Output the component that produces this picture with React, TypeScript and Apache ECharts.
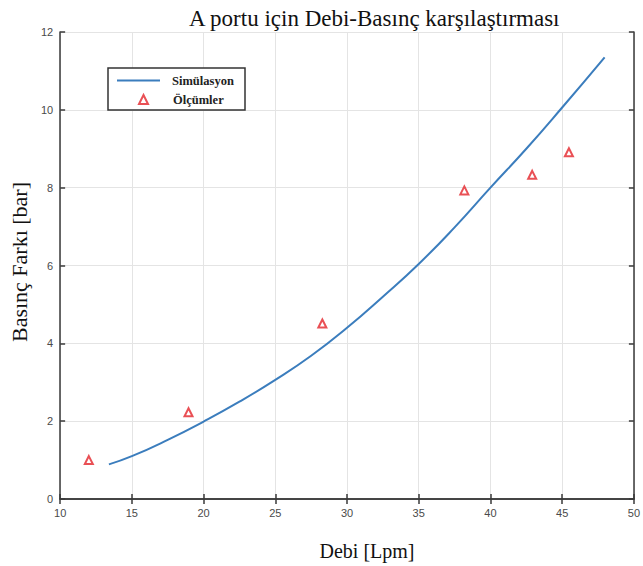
import React, { useEffect, useRef } from "react";
import * as echarts from "echarts";

const titleText = "A portu için Debi-Basınç karşılaştırması";
const xName = "Debi [Lpm]";
const yName = "Basınç Farkı [bar]";
const simName = "Simülasyon";
const measName = "Ölçümler";

const simX = [13.4, 15, 17.5, 20, 22.5, 25, 27.5, 30, 32.5, 35, 37.5, 40, 42.5, 45, 47.96];
const simY = [0.89, 1.1, 1.52, 1.99, 2.5, 3.06, 3.68, 4.4, 5.2, 6.04, 6.98, 8.0, 9.0, 10.06, 11.35];

const measX = [12.0, 18.95, 28.28, 38.18, 42.91, 45.47];
const measY = [1.0, 2.23, 4.51, 7.93, 8.33, 8.91];

const xMin = 10, xMax = 50, xStep = 5;
const yMin = 0, yMax = 12, yStep = 2;

export default function App() {
  const ref = useRef<HTMLDivElement>(null);
  useEffect(() => {
    if (!ref.current) return;
    const chart = echarts.init(ref.current, null, { renderer: "svg" });
    const axisLine = { show: true, lineStyle: { color: "#3a3a3a", width: 1.5 } };
    const axisTick = { show: true, inside: true, length: 5, lineStyle: { color: "#3a3a3a", width: 1.5 } };
    const tickLabel = { color: "#4a4a4a", fontFamily: "Liberation Sans", fontSize: 11 };
    const legendText = {
      fontFamily: "Liberation Serif",
      fontWeight: "bold",
      fontSize: 12.5,
      color: "#222",
    };
    chart.setOption({
      animation: false,
      backgroundColor: "#fff",
      title: {
        text: titleText,
        left: 184,
        top: 2,
        textStyle: { fontFamily: "Liberation Serif", fontSize: 23, fontWeight: "normal", color: "#111" },
      },
      grid: { left: 56, right: 5, top: 32, bottom: 67, containLabel: false },
      graphic: [
        {
          type: "rect",
          z: 3,
          shape: { x: 108, y: 68, width: 137, height: 42 },
          style: { fill: "#fff", stroke: "#333", lineWidth: 1.5 },
        },
      ],
      legend: [
        {
          orient: "vertical",
          left: 117,
          top: 74,
          padding: 0,
          itemWidth: 43,
          itemHeight: 2,
          icon: "rect",
          textStyle: { ...legendText, padding: [0, 0, 0, 7] },
          data: [simName],
          z: 5,
        },
        {
          orient: "vertical",
          left: 138,
          top: 93,
          padding: 0,
          itemWidth: 9,
          itemHeight: 9,
          icon: "triangle",
          textStyle: { ...legendText, padding: [0, 0, 0, 20] },
          data: [measName],
          z: 5,
        },
      ],
      xAxis: [
        {
          type: "value",
          min: xMin,
          max: xMax,
          interval: xStep,
          position: "bottom",
          name: xName,
          nameLocation: "middle",
          nameGap: 42,
          nameTextStyle: { fontFamily: "Liberation Serif", fontSize: 20, color: "#111", padding: [0, 0, 0, 40] },
          axisLine,
          axisTick,
          axisLabel: { ...tickLabel, margin: 8 },
          splitLine: { show: true, lineStyle: { color: "#e4e4e4", width: 1 } },
        },
        {
          type: "value",
          min: xMin,
          max: xMax,
          interval: xStep,
          position: "top",
          axisLine,
          axisTick,
          axisLabel: { show: false },
          splitLine: { show: false },
        },
      ],
      yAxis: [
        {
          type: "value",
          min: yMin,
          max: yMax,
          interval: yStep,
          position: "left",
          name: yName,
          nameLocation: "middle",
          nameGap: 25,
          nameTextStyle: { fontFamily: "Liberation Serif", fontSize: 22, color: "#111", padding: [0, 0, 0, 7] },
          axisLine,
          axisTick,
          axisLabel: { ...tickLabel, margin: 7 },
          splitLine: { show: true, lineStyle: { color: "#e4e4e4", width: 1 } },
        },
        {
          type: "value",
          min: yMin,
          max: yMax,
          interval: yStep,
          position: "right",
          axisLine,
          axisTick,
          axisLabel: { show: false },
          splitLine: { show: false },
        },
      ],
      series: [
        {
          name: simName,
          type: "line",
          xAxisIndex: 0,
          yAxisIndex: 0,
          smooth: true,
          showSymbol: false,
          symbol: "none",
          lineStyle: { color: "#3b7dbd", width: 2 },
          itemStyle: { color: "#3b7dbd" },
          data: simX.map((x, i) => [x, simY[i]]),
        },
        {
          name: measName,
          type: "scatter",
          xAxisIndex: 0,
          yAxisIndex: 0,
          symbol: "triangle",
          symbolSize: 8,
          itemStyle: { color: "#fff", borderColor: "#e3242b", borderWidth: 2 },
          data: measX.map((x, i) => [x, measY[i]]),
        },
      ],
    });
    return () => chart.dispose();
  }, []);
  return <div ref={ref} style={{ width: 643, height: 566, position: "absolute", left: 0, top: 0 }} />;
}
